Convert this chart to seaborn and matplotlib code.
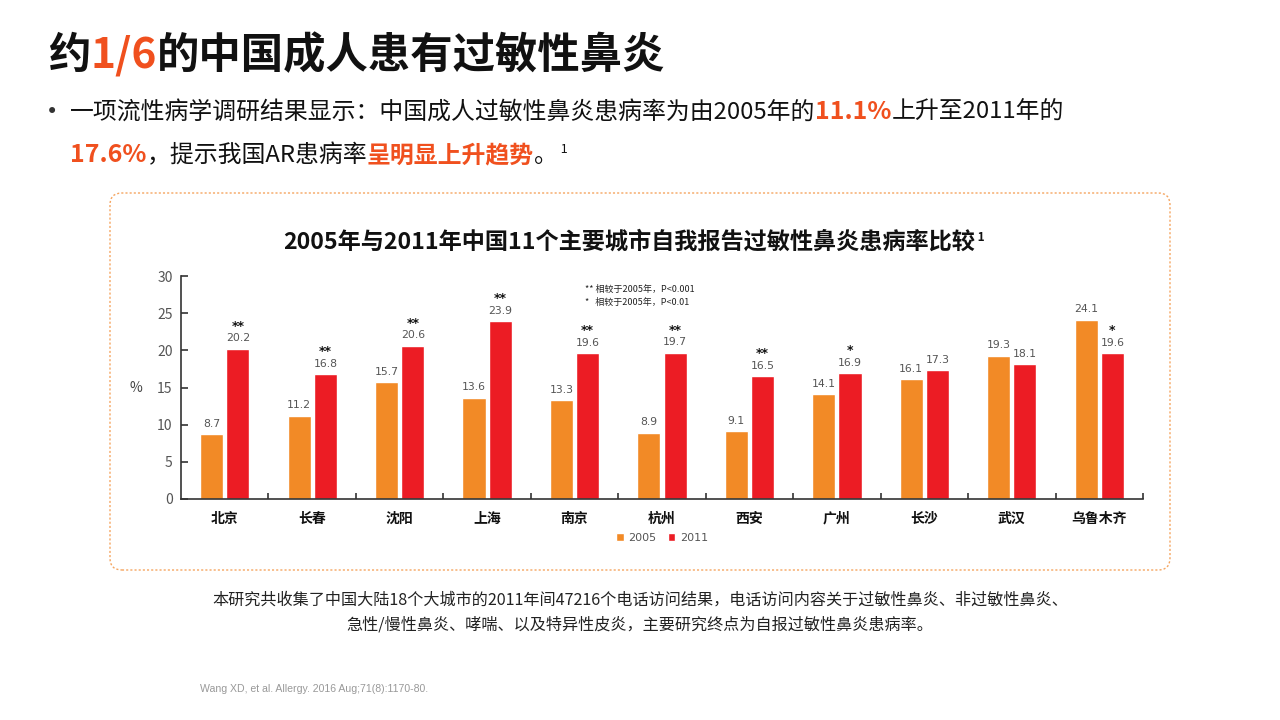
import pandas as pd
import matplotlib
matplotlib.use("Agg")
import matplotlib.pyplot as plt
import seaborn as sns
from matplotlib.patches import FancyBboxPatch, Patch
from matplotlib.transforms import IdentityTransform

# Data
cities = ["北京", "长春", "沈阳", "上海", "南京", "杭州", "西安", "广州", "长沙", "武汉", "乌鲁木齐"]
rate_2005 = [8.7, 11.2, 15.7, 13.6, 13.3, 8.9, 9.1, 14.1, 16.1, 19.3, 24.1]
rate_2011 = [20.2, 16.8, 20.6, 23.9, 19.6, 19.7, 16.5, 16.9, 17.3, 18.1, 19.6]
sig_2011 = ["**", "**", "**", "**", "**", "**", "**", "*", "", "", "*"]
years = ["2005", "2011"]
y_ticks = [0, 5, 10, 15, 20, 25, 30]

ORANGE = "#F28A26"
RED = "#EC1C24"
ACCENT = "#F0501E"

sns.set_theme(style="white")
plt.rcParams["font.family"] = ["Noto Sans CJK SC", "DejaVu Sans"]

df = pd.DataFrame({
    "city": cities * 2,
    "rate": rate_2005 + rate_2011,
    "year": [years[0]] * len(cities) + [years[1]] * len(cities),
})

fig = plt.figure(figsize=(12.8, 7.2), dpi=100)
fig.patch.set_facecolor("white")

# dashed rounded frame around the chart
frame = FancyBboxPatch((1.10, 1.50), 10.60, 3.77,
                       boxstyle="round,pad=0,rounding_size=0.12",
                       transform=fig.dpi_scale_trans, facecolor="none",
                       edgecolor="#F5A560", linewidth=1.0, linestyle=(0, (1.5, 1.5)))
fig.patches.append(frame)

ax = fig.add_axes([181 / 1280, 1 - 499 / 720, (1143 - 181) / 1280, (499 - 276) / 720])
sns.barplot(data=df, x="city", y="rate", hue="year", hue_order=years,
            palette=[ORANGE, RED], saturation=1, width=0.6, gap=0.12,
            legend=False, ax=ax)

ax.set_ylim(0, 30)
ax.set_xlim(-0.5, len(cities) - 0.5)
ax.set_yticks(y_ticks)
ax.set_xlabel("")
ax.set_ylabel("%", rotation=0, fontsize=10, color="#444", labelpad=15, va="center")
for s in ["top", "right"]:
    ax.spines[s].set_visible(False)
for s in ["left", "bottom"]:
    ax.spines[s].set_color("#333")
    ax.spines[s].set_linewidth(1.2)
ax.tick_params(axis="y", left=True, direction="in", length=5, width=1.2, color="#333",
               labelsize=10, labelcolor="#555", pad=6)
ax.tick_params(axis="x", bottom=False, length=0, labelsize=10, labelcolor="#111", pad=17)
for lab in ax.get_xticklabels():
    lab.set_fontweight("bold")
    lab.set_va("baseline")
ax.set_xticks([i + 0.5 for i in range(len(cities))], minor=True)
ax.tick_params(axis="x", which="minor", bottom=True, direction="in", length=4,
               color="#333", width=1.2)

# value labels and significance stars
ax.bar_label(ax.containers[0], labels=[f"{v}" for v in rate_2005], padding=4,
             fontsize=7.8, color="#555", family="DejaVu Sans")
ax.bar_label(ax.containers[1], labels=[f"{v}" for v in rate_2011], padding=4,
             fontsize=7.8, color="#555", family="DejaVu Sans")
for bar, s in zip(ax.containers[1], sig_2011):
    if s:
        ax.annotate(s, (bar.get_x() + bar.get_width() / 2, bar.get_height()),
                    xytext=(0, 11.5), textcoords="offset points", ha="center",
                    va="bottom", fontsize=9, fontweight="bold", color="#111",
                    family="DejaVu Sans")

# legend below the axis
handles = [Patch(facecolor=ORANGE, label=years[0]), Patch(facecolor=RED, label=years[1])]
fig.legend(handles=handles, loc="center", bbox_to_anchor=(662 / 1280, 1 - 538 / 720),
           ncol=2, frameon=False, handlelength=0.7, handleheight=0.7,
           handletextpad=0.4, columnspacing=1.0,
           prop={"family": "DejaVu Sans", "size": 8}, labelcolor="#555")

# significance note
fig.text(585, 720 - 289, "** 相较于2005年，P<0.001", transform=IdentityTransform(),
         fontsize=6.5, color="#222", va="center")
fig.text(585, 720 - 302, "*   相较于2005年，P<0.01", transform=IdentityTransform(),
         fontsize=6.5, color="#222", va="center")

renderer = fig.canvas.get_renderer()


def draw_runs(x, y, runs):
    # draw text pieces one after another on the same baseline (pixel coords)
    for txt, color, weight, size, rise in runs:
        t = fig.text(x, y + rise, txt, transform=IdentityTransform(), color=color,
                     fontweight=weight, fontsize=size, va="baseline", ha="left")
        x = t.get_window_extent(renderer).x1
    return x


# page title
draw_runs(48, 720 - 68, [
    ("约", "#111", "bold", 30.5, 0),
    ("1/6", ACCENT, "bold", 30.5, 0),
    ("的中国成人患有过敏性鼻炎", "#111", "bold", 30.5, 0),
])

# bullet text
fig.text(46, 720 - 118, "•", transform=IdentityTransform(), fontsize=15,
         color="#333", va="baseline", family="DejaVu Sans")
draw_runs(70, 720 - 119, [
    ("一项流性病学调研结果显示：中国成人过敏性鼻炎患病率为由2005年的", "#111", "normal", 17.2, 0),
    ("11.1%", ACCENT, "bold", 18, 0),
    ("上升至2011年的", "#111", "normal", 17.2, 0),
])
draw_runs(70, 720 - 162, [
    ("17.6%", ACCENT, "bold", 18, 0),
    ("，提示我国AR患病率", "#111", "normal", 17.2, 0),
    ("呈明显上升趋势", ACCENT, "bold", 17.2, 0),
    ("。", "#111", "normal", 17.2, 0),
    (" 1", "#111", "normal", 9, 9),
])

# chart title
draw_runs(283, 720 - 249, [
    ("2005年与2011年中国11个主要城市自我报告过敏性鼻炎患病率比较", "#111", "bold", 16.7, 0),
    (" 1", "#111", "bold", 8.5, 8),
])

# footnotes
fig.text(640, 720 - 600, "本研究共收集了中国大陆18个大城市的2011年间47216个电话访问结果，电话访问内容关于过敏性鼻炎、非过敏性鼻炎、",
         transform=IdentityTransform(), ha="center", va="center", fontsize=11.6, color="#222")
fig.text(640, 720 - 625, "急性/慢性鼻炎、哮喘、以及特异性皮炎，主要研究终点为自报过敏性鼻炎患病率。",
         transform=IdentityTransform(), ha="center", va="center", fontsize=11.6, color="#222")
fig.text(200, 720 - 689, "Wang XD, et al. Allergy. 2016 Aug;71(8):1170-80.",
         transform=IdentityTransform(), ha="left", va="center", fontsize=7.6,
         color="#999", family="Liberation Sans")

fig.savefig("out.png", dpi=100)
